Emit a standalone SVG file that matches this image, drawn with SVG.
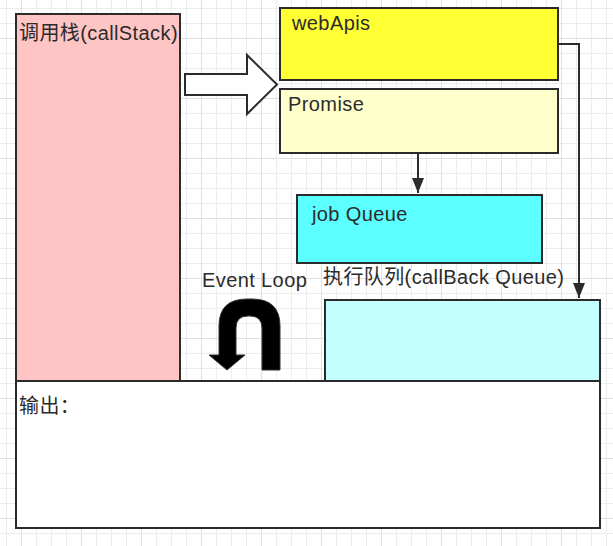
<svg xmlns="http://www.w3.org/2000/svg" width="613" height="546" viewBox="0 0 613 546">
  <style>
    .box { stroke: #2b2b2b; stroke-width: 2; }
    .lbl { font-family: "Liberation Sans", "Noto Sans CJK SC", sans-serif; font-size: 20px; letter-spacing: 0.4px; fill: #2b2b2b; }
    .conn { fill: none; stroke: #2b2b2b; stroke-width: 2; }
  </style>
  <defs>
    <pattern id="minor" patternUnits="userSpaceOnUse" x="6" y="8" width="15" height="15">
      <path d="M0.5 0 V15 M0 0.5 H15" stroke="#ededed" stroke-width="1" fill="none"/>
    </pattern>
    <pattern id="major" patternUnits="userSpaceOnUse" x="21" y="38" width="60" height="60">
      <path d="M0.5 0 V60 M0 0.5 H60" stroke="#e0e0e0" stroke-width="1" fill="none"/>
    </pattern>
    <marker id="arrow" markerUnits="userSpaceOnUse" markerWidth="16" markerHeight="12" viewBox="0 0 16 12" refX="15" refY="6" orient="auto">
      <path d="M0 0 L15 6 L0 12 Z" fill="#2b2b2b"/>
    </marker>
  </defs>

  <rect width="613" height="546" fill="#ffffff"/>
  <rect width="613" height="546" fill="url(#minor)"/>
  <rect width="613" height="546" fill="url(#major)"/>

  <g id="callStack">
    <rect class="box" x="16" y="14" width="164" height="367" fill="#ffc4c4"/>
    <text class="lbl" x="19" y="40">调用栈(callStack)</text>
  </g>

  <g id="bigArrow">
    <polygon class="box" points="185,74 247,74 247,55 277,84.5 247,114 247,95 185,95" fill="#ffffff"/>
  </g>

  <g id="webApis">
    <rect class="box" x="280" y="8" width="278" height="72" fill="#ffff33"/>
    <text class="lbl" x="292" y="30">webApis</text>
  </g>

  <g id="promise">
    <rect class="box" x="280" y="89" width="278" height="64" fill="#ffffcc"/>
    <text class="lbl" x="288" y="111">Promise</text>
  </g>

  <g id="jobQueue">
    <rect class="box" x="297" y="195" width="245" height="68" fill="#5cffff"/>
    <text class="lbl" x="312" y="221">job Queue</text>
  </g>

  <g id="callbackQueue">
    <text class="lbl" x="323" y="284">执行队列(callBack Queue)</text>
    <rect class="box" x="325" y="300" width="275" height="81" fill="#c4ffff"/>
  </g>

  <g id="eventLoop">
    <text class="lbl" x="202" y="287">Event Loop</text>
    <path d="M262 370 L280 370 L280 326 Q280 299 252 299 L247 299 Q219 299 219 326 L219 355 L209 355 L227 370 L245 355 L236 355 L236 328 Q236 316 248 316 L250 316 Q262 316 262 328 Z" fill="#000000" stroke="#333333" stroke-width="1"/>
  </g>

  <g id="output">
    <rect class="box" x="16" y="381" width="584" height="147" fill="#ffffff"/>
    <text class="lbl" x="19" y="413">输出：</text>
  </g>

  <g id="connectors">
    <path class="conn" d="M558 44 H579 V298" marker-end="url(#arrow)"/>
    <path class="conn" d="M418 153 V193" marker-end="url(#arrow)"/>
  </g>
</svg>
